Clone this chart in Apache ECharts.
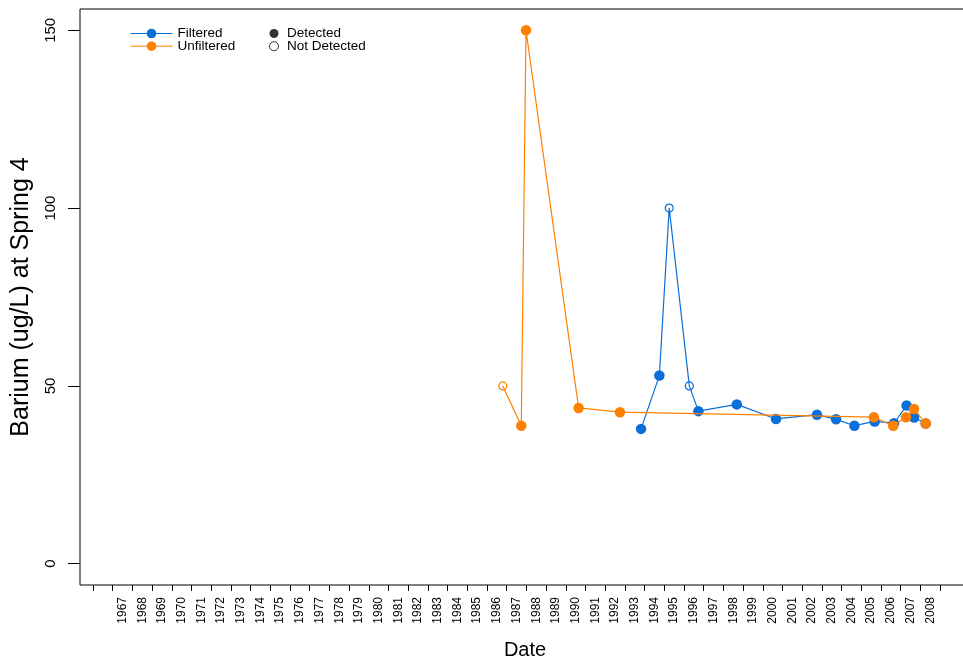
<!DOCTYPE html>
<html><head><meta charset="utf-8">
<script src="https://cdn.jsdelivr.net/npm/echarts@6/dist/echarts.min.js"></script>
<style>html,body{margin:0;padding:0;background:#fff}#c{width:963px;height:662px}</style>
</head><body><div id="c"></div>
<script>
// ---- data ----
const filteredDates    = [1993.82, 1994.75, 1995.25, 1996.27, 1996.73, 1998.68, 2000.67, 2002.75, 2003.72, 2004.65, 2005.68, 2006.66, 2007.30, 2007.68, 2008.27];
const filteredValues   = [37.9, 52.9, 100, 50, 42.9, 44.8, 40.7, 41.9, 40.6, 38.8, 40.0, 39.5, 44.5, 41.1, 39.4];
const filteredDetected = [1, 1, 0, 0, 1, 1, 1, 1, 1, 1, 1, 1, 1, 1, 1];

const unfilteredDates    = [1986.80, 1987.74, 1987.98, 1990.65, 1992.75, 2005.64, 2006.62, 2007.27, 2007.68, 2008.27];
const unfilteredValues   = [50, 38.8, 150, 43.8, 42.6, 41.2, 38.8, 41.2, 43.5, 39.4];
const unfilteredDetected = [0, 1, 1, 1, 1, 1, 1, 1, 1, 1];

const tickYears  = [1966,1967,1968,1969,1970,1971,1972,1973,1974,1975,1976,1977,1978,1979,1980,1981,1982,1983,1984,1985,1986,1987,1988,1989,1990,1991,1992,1993,1994,1995,1996,1997,1998,1999,2000,2001,2002,2003,2004,2005,2006,2007,2008,2009];
const labelYears = [1967,1968,1969,1970,1971,1972,1973,1974,1975,1976,1977,1978,1979,1980,1981,1982,1983,1984,1985,1986,1987,1988,1989,1990,1991,1992,1993,1994,1995,1996,1997,1998,1999,2000,2001,2002,2003,2004,2005,2006,2007,2008];
const yTicks = [0, 50, 100, 150];

// ---- style ----
const FONT = '"Liberation Sans", Arial, Helvetica, sans-serif';
const BLUE = '#0a6fd8';
const ORANGE = '#ff8000';

function buildData(dates, values, detected, color) {
  return dates.map((d, i) => detected[i]
    ? { value: [d, values[i]], symbolSize: 10.5 }
    : { value: [d, values[i]], symbolSize: 8,
        itemStyle: { color: 'rgba(255,255,255,0)', borderColor: color, borderWidth: 1.2 } });
}

const legendText = { fontFamily: FONT, fontSize: 13.5, color: '#000', lineHeight: 4.5, padding: [8, 0, 0, 0] };

const chart = echarts.init(document.getElementById('c'), null, { renderer: 'canvas' });
chart.setOption({
  animation: false,
  backgroundColor: '#fff',
  textStyle: { fontFamily: FONT, color: '#000' },
  grid: { left: 80, top: 9, width: 890, height: 576, show: true, borderColor: '#000', borderWidth: 1,
          backgroundColor: 'transparent', outerBoundsMode: 'none', containLabel: false },
  legend: [
    { data: ['Filtered', 'Unfiltered'], orient: 'vertical', left: 130, top: 26.5, padding: 0,
      itemWidth: 42, itemHeight: 12, itemGap: -1.3, textStyle: legendText,
      lineStyle: { width: 1 } },
    { data: [ { name: 'Detected', itemStyle: { color: '#000' } },
              { name: 'Not Detected', itemStyle: { color: '#fff', borderColor: '#000', borderWidth: 1 } } ],
      orient: 'vertical', left: 269, top: 26.5, padding: 0, icon: 'circle',
      itemWidth: 16, itemHeight: 9, itemGap: -1.3, textStyle: legendText }
  ],
  xAxis: {
    type: 'value', min: 1965.34, max: 2010.518,
    name: 'Date', nameLocation: 'middle', nameGap: 55,
    nameTextStyle: { fontFamily: FONT, fontSize: 20, color: '#000' },
    axisLine: { show: false, onZero: false }, splitLine: { show: false },
    axisTick: { show: true, length: 6, customValues: tickYears, lineStyle: { color: '#000', width: 1 } },
    axisLabel: { customValues: labelYears.map(y => y + 0.5), rotate: 90, margin: 12, fontSize: 12,
                 fontFamily: FONT, color: '#000', formatter: v => String(Math.floor(v)) }
  },
  yAxis: {
    type: 'value', min: -6, max: 156,
    name: 'Barium (ug/L) at Spring 4', nameLocation: 'middle', nameGap: 46,
    nameTextStyle: { fontFamily: FONT, fontSize: 25, color: '#000' },
    axisLine: { show: false, onZero: false }, splitLine: { show: false },
    axisTick: { show: true, length: 12, customValues: yTicks, lineStyle: { color: '#000', width: 1 } },
    axisLabel: { customValues: yTicks, rotate: 90, margin: 22, fontSize: 15, fontFamily: FONT, color: '#000' }
  },
  series: [
    { name: 'Filtered', type: 'line', color: BLUE, symbol: 'circle', symbolSize: 10.5, showAllSymbol: true,
      lineStyle: { color: BLUE, width: 1.2 }, itemStyle: { color: BLUE },
      data: buildData(filteredDates, filteredValues, filteredDetected, BLUE), z: 2 },
    { name: 'Unfiltered', type: 'line', color: ORANGE, symbol: 'circle', symbolSize: 10.5, showAllSymbol: true,
      lineStyle: { color: ORANGE, width: 1.2 }, itemStyle: { color: ORANGE },
      data: buildData(unfilteredDates, unfilteredValues, unfilteredDetected, ORANGE), z: 3 },
    { name: 'Detected', type: 'scatter', data: [], itemStyle: { color: '#000' } },
    { name: 'Not Detected', type: 'scatter', data: [], itemStyle: { color: '#fff', borderColor: '#000', borderWidth: 1 } }
  ]
});
</script>
</body></html>
